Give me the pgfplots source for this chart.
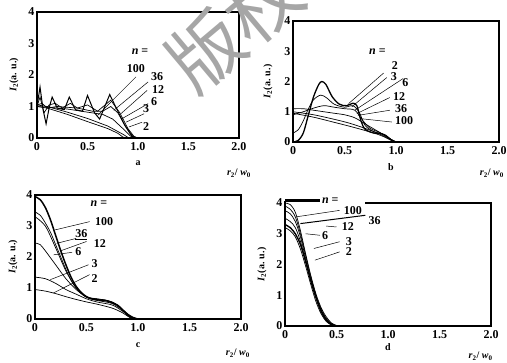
\documentclass[border=0pt]{standalone}
\usepackage{fontspec}
\setmainfont{Liberation Serif}
\newfontfamily\cjk{Noto Sans CJK SC}
\usepackage{pgfplots}
\pgfplotsset{compat=1.18}
\pgfplotsset{panel/.style={scale only axis, xmin=0,xmax=2,ymin=0,ymax=4,
  xtick={0,0.5,1,1.5,2}, xticklabels={0,0.5,1.0,1.5,2.0},
  ytick={0,1,2,3,4}, yticklabels={0,1,2,3,4},
  major tick length=0pt, axis line style={line width=2.2pt},
  tick label style={font=\fontsize{12}{12}\selectfont\bfseries},
  xticklabel style={yshift=-1pt}, yticklabel style={xshift=1pt},
  clip=false, cycle list={{black,line width=0.7pt,mark=none}},
  every axis plot/.append style={black, line width=0.7pt, mark=none}}}
\newcommand{\ylab}{\textit{I}\textsubscript{2}(a. u.)}
\newcommand{\xlab}{\textit{r}\textsubscript{2}/ \textit{w}\textsubscript{0}}
\begin{document}
\begin{tikzpicture}[x=1pt,y=1pt]
\useasboundingbox (0,0) rectangle (507,363);
% ---------------- panel a
\begin{axis}[panel, at={(37pt,225pt)}, anchor=south west, width=202pt, height=126pt]
\addplot coordinates {(0,1.0)(0.1,0.95)(0.3,0.75)(0.5,0.52)(0.7,0.3)(0.8,0.15)(0.85,0.03)(0.9,0)};
\addplot coordinates {(0,1.05)(0.1,1.0)(0.3,0.82)(0.5,0.62)(0.7,0.38)(0.85,0.12)(0.9,0.02)(0.95,0)};
\addplot coordinates {(0,1.0)(0.1,0.98)(0.3,0.92)(0.5,0.82)(0.65,0.75)(0.75,0.6)(0.85,0.3)(0.93,0.05)(0.97,0)};
\addplot coordinates {(0,1.05)(0.05,1.1)(0.1,0.95)(0.2,1.0)(0.4,0.95)(0.55,0.85)(0.65,0.85)(0.73,1.0)(0.8,0.8)(0.88,0.35)(0.95,0.05)(1.0,0)};
\addplot coordinates {(0,1.0)(0.03,1.3)(0.07,0.8)(0.12,1.05)(0.18,1.1)(0.25,0.95)(0.33,1.1)(0.4,0.95)(0.5,1.05)(0.6,0.85)(0.73,1.2)(0.82,0.8)(0.9,0.3)(0.96,0.05)(1.0,0)};
\addplot[line width=1pt] coordinates {(0,1.0)(0.03,1.62)(0.06,0.9)(0.09,0.45)(0.12,0.95)(0.15,1.3)(0.2,0.95)(0.27,0.9)(0.32,1.3)(0.38,0.9)(0.45,0.85)(0.5,1.35)(0.57,0.8)(0.62,0.6)(0.72,1.38)(0.8,0.85)(0.87,0.4)(0.94,0.05)(0.98,0)};
\draw[line width=0.5pt] (axis cs:0.98,1.94)--(axis cs:0.6,0.72);
\draw[line width=0.5pt] (axis cs:1.1,1.78)--(axis cs:0.76,0.88);
\draw[line width=0.5pt] (axis cs:1.09,1.51)--(axis cs:0.83,0.77);
\draw[line width=0.5pt] (axis cs:1.1,1.09)--(axis cs:0.84,0.61);
\draw[line width=0.5pt] (axis cs:1.06,0.77)--(axis cs:0.88,0.5);
\draw[line width=0.5pt] (axis cs:1.04,0.5)--(axis cs:0.91,0.35);
\begin{scope}[font=\fontsize{12}{12}\selectfont\bfseries]
\node at (axis cs:1.02,2.73) {\textit{n} =};
\node at (axis cs:0.98,2.2) {100};
\node at (axis cs:1.19,1.94) {36};
\node at (axis cs:1.2,1.53) {12};
\node at (axis cs:1.16,1.14) {6};
\node at (axis cs:1.08,0.93) {3};
\node at (axis cs:1.08,0.37) {2};
\end{scope}
\node[font=\fontsize{10}{10}\selectfont\bfseries] at ([yshift=-25pt]axis cs:1.0,0) {a};
\node[font=\fontsize{10}{10}\selectfont\bfseries] at ([yshift=-35pt]axis cs:2.0,0) {\xlab};
\node[font=\fontsize{10}{10}\selectfont\bfseries, rotate=90] at ([xshift=-23pt]rel axis cs:0,0.5) {\ylab};
\end{axis}
% ---------------- panel b
\begin{axis}[panel, at={(293pt,221pt)}, anchor=south west, width=206pt, height=121pt]
\addplot[line width=1.3pt, smooth] coordinates {(0,0)(0.05,0.05)(0.1,0.3)(0.15,0.9)(0.2,1.5)(0.25,1.9)(0.28,2.0)(0.32,1.9)(0.38,1.5)(0.45,1.25)(0.52,1.2)(0.58,1.28)(0.62,1.2)(0.66,0.7)(0.7,0.42)(0.78,0.3)(0.85,0.28)(0.9,0.22)(0.95,0.08)(1.0,0)};
\addplot[smooth] coordinates {(0,0.3)(0.05,0.4)(0.1,0.7)(0.15,1.1)(0.2,1.4)(0.27,1.55)(0.33,1.45)(0.4,1.25)(0.5,1.15)(0.58,1.2)(0.64,1.0)(0.7,0.55)(0.78,0.35)(0.88,0.25)(0.95,0.08)(1.0,0)};
\addplot[smooth] coordinates {(0,0.9)(0.1,1.0)(0.2,1.12)(0.3,1.2)(0.4,1.15)(0.5,1.1)(0.6,1.05)(0.68,0.7)(0.75,0.45)(0.85,0.3)(0.95,0.08)(1.0,0)};
\addplot[smooth] coordinates {(0,1.1)(0.1,1.1)(0.2,1.05)(0.3,1.0)(0.4,0.95)(0.5,0.9)(0.6,0.8)(0.7,0.6)(0.8,0.4)(0.9,0.2)(0.97,0.05)(1.0,0)};
\addplot[smooth] coordinates {(0,1.0)(0.2,0.9)(0.4,0.75)(0.55,0.62)(0.7,0.45)(0.85,0.25)(0.95,0.08)(1.0,0)};
\addplot[smooth] coordinates {(0,0.95)(0.2,0.82)(0.4,0.65)(0.55,0.52)(0.7,0.38)(0.85,0.22)(0.95,0.06)(1.0,0)};
\draw[line width=0.5pt] (axis cs:0.88,2.28)--(axis cs:0.54,1.27);
\draw[line width=0.5pt] (axis cs:0.91,2.13)--(axis cs:0.57,1.16);
\draw[line width=0.5pt] (axis cs:1.07,2.1)--(axis cs:0.6,1.05);
\draw[line width=0.5pt] (axis cs:0.94,1.47)--(axis cs:0.62,0.94);
\draw[line width=0.5pt] (axis cs:0.94,1.05)--(axis cs:0.63,0.88);
\draw[line width=0.5pt] (axis cs:0.96,0.66)--(axis cs:0.66,0.77);
\begin{scope}[font=\fontsize{12}{12}\selectfont\bfseries]
\node at (axis cs:0.82,2.97) {\textit{n} =};
\node at (axis cs:0.99,2.53) {2};
\node at (axis cs:0.98,2.15) {3};
\node at (axis cs:1.09,1.98) {6};
\node at (axis cs:1.03,1.49) {12};
\node at (axis cs:1.05,1.1) {36};
\node at (axis cs:1.08,0.72) {100};
\end{scope}
\node[font=\fontsize{10}{10}\selectfont\bfseries] at ([yshift=-25pt]axis cs:0.95,0) {b};
\node[font=\fontsize{10}{10}\selectfont\bfseries] at ([yshift=-31pt]axis cs:1.93,0) {\xlab};
\node[font=\fontsize{10}{10}\selectfont\bfseries, rotate=90] at ([xshift=-25pt]rel axis cs:0,0.5) {\ylab};
\end{axis}
% ---------------- panel c
\begin{axis}[panel, at={(35pt,44pt)}, anchor=south west, width=206pt, height=124pt]
\addplot[line width=1.5pt, smooth] coordinates {(0,3.95)(0.05,3.85)(0.1,3.6)(0.15,3.2)(0.2,2.7)(0.25,2.2)(0.3,1.75)(0.35,1.35)(0.4,1.05)(0.45,0.85)(0.5,0.72)(0.55,0.65)(0.6,0.62)(0.7,0.58)(0.8,0.45)(0.85,0.3)(0.9,0.15)(0.95,0.05)(1.0,0)};
\addplot[smooth] coordinates {(0,3.45)(0.05,3.35)(0.1,3.1)(0.15,2.8)(0.2,2.4)(0.25,2.0)(0.3,1.6)(0.35,1.25)(0.4,1.0)(0.5,0.72)(0.6,0.65)(0.7,0.6)(0.8,0.45)(0.88,0.2)(0.95,0.05)(1.0,0)};
\addplot[smooth] coordinates {(0,3.3)(0.1,3.0)(0.2,2.3)(0.3,1.55)(0.4,1.0)(0.5,0.7)(0.6,0.65)(0.75,0.55)(0.85,0.3)(0.93,0.08)(1.0,0)};
\addplot[smooth] coordinates {(0,2.45)(0.05,2.4)(0.1,2.2)(0.2,1.75)(0.3,1.3)(0.4,0.95)(0.5,0.7)(0.6,0.6)(0.75,0.5)(0.85,0.28)(0.92,0.08)(0.98,0)};
\addplot[smooth] coordinates {(0,1.35)(0.1,1.3)(0.2,1.15)(0.3,0.95)(0.4,0.8)(0.5,0.65)(0.6,0.55)(0.75,0.45)(0.85,0.25)(0.92,0.06)(0.98,0)};
\addplot[smooth] coordinates {(0,0.95)(0.1,0.9)(0.2,0.82)(0.3,0.72)(0.4,0.63)(0.5,0.55)(0.6,0.48)(0.75,0.35)(0.85,0.2)(0.92,0.05)(0.97,0)};
\draw[line width=0.5pt] (axis cs:0.53,3.14)--(axis cs:0.19,2.87);
\draw[line width=0.5pt] (axis cs:0.4,2.6)--(axis cs:0.21,2.44);
\draw[line width=0.5pt] (axis cs:0.5,2.5)--(axis cs:0.25,2.2);
\draw[line width=0.5pt] (axis cs:0.36,2.15)--(axis cs:0.18,2.07);
\draw[line width=0.5pt] (axis cs:0.52,1.75)--(axis cs:0.15,1.27);
\draw[line width=0.5pt] (axis cs:0.53,1.43)--(axis cs:0.18,0.84);
\begin{scope}[font=\fontsize{12}{12}\selectfont\bfseries]
\node at (axis cs:0.62,3.73) {\textit{n} =};
\node at (axis cs:0.67,3.14) {100};
\node at (axis cs:0.45,2.71) {\underline{36}};
\node at (axis cs:0.63,2.45) {12};
\node at (axis cs:0.42,2.18) {6};
\node at (axis cs:0.58,1.8) {3};
\node at (axis cs:0.58,1.29) {2};
\end{scope}
\node[font=\fontsize{10}{10}\selectfont\bfseries] at ([yshift=-26pt]axis cs:1.0,0) {c};
\node[font=\fontsize{10}{10}\selectfont\bfseries] at ([yshift=-34pt]axis cs:1.97,0) {\xlab};
\node[font=\fontsize{10}{10}\selectfont\bfseries, rotate=90] at ([xshift=-22pt]rel axis cs:0,0.5) {\ylab};
\end{axis}
% ---------------- panel d
\begin{axis}[panel, at={(285pt,37pt)}, anchor=south west, width=206pt, height=123pt,
  axis line style={draw=none}]
\addplot[smooth] coordinates {(0,4.0)(0.05,3.95)(0.1,3.7)(0.15,3.1)(0.2,2.35)(0.25,1.65)(0.3,1.05)(0.35,0.6)(0.4,0.3)(0.45,0.1)(0.5,0.02)(0.55,0)};
\addplot[smooth] coordinates {(0,3.9)(0.05,3.8)(0.1,3.55)(0.15,3.0)(0.2,2.3)(0.25,1.6)(0.3,1.0)(0.35,0.55)(0.4,0.25)(0.45,0.08)(0.5,0)};
\addplot[smooth] coordinates {(0,3.75)(0.05,3.65)(0.1,3.4)(0.15,2.9)(0.2,2.2)(0.25,1.5)(0.3,0.95)(0.35,0.5)(0.4,0.22)(0.45,0.06)(0.5,0)};
\addplot[smooth] coordinates {(0,3.5)(0.05,3.4)(0.1,3.2)(0.15,2.75)(0.2,2.1)(0.25,1.45)(0.3,0.9)(0.35,0.45)(0.4,0.18)(0.45,0.05)(0.48,0)};
\addplot[smooth, line width=1.4pt] coordinates {(0,3.3)(0.05,3.2)(0.1,3.0)(0.15,2.65)(0.2,2.1)(0.25,1.5)(0.3,0.95)(0.35,0.5)(0.4,0.2)(0.45,0.05)(0.5,0)};
\addplot[smooth] coordinates {(0,3.2)(0.05,3.1)(0.1,2.9)(0.15,2.5)(0.2,1.95)(0.25,1.35)(0.3,0.8)(0.35,0.4)(0.4,0.15)(0.45,0.03)(0.48,0)};
\draw[line width=2.2pt] (axis cs:0.78,4)--(axis cs:2,4)--(axis cs:2,0)--(axis cs:0,0)--(axis cs:0,4.08);
\draw[line width=2.2pt] (axis cs:0,4.08)--(axis cs:0.34,4.08);
\draw[line width=0.5pt] (axis cs:0.53,3.76)--(axis cs:0.11,3.55);
\draw[line width=1pt] (axis cs:0.78,3.6)--(axis cs:0.15,3.33);
\draw[line width=0.5pt] (axis cs:0.5,3.22)--(axis cs:0.4,3.25);
\draw[line width=0.5pt] (axis cs:0.34,2.95)--(axis cs:0.2,3.0);
\draw[line width=0.5pt] (axis cs:0.53,2.74)--(axis cs:0.28,2.52);
\draw[line width=0.5pt] (axis cs:0.53,2.41)--(axis cs:0.29,2.14);
\begin{scope}[font=\fontsize{12}{12}\selectfont\bfseries]
\node at (axis cs:0.44,4.08) {\textit{n} =};
\node at (axis cs:0.66,3.76) {100};
\node at (axis cs:0.87,3.44) {36};
\node at (axis cs:0.61,3.22) {12};
\node at (axis cs:0.39,2.95) {6};
\node at (axis cs:0.62,2.74) {3};
\node at (axis cs:0.62,2.41) {2};
\end{scope}
\node[font=\fontsize{10}{10}\selectfont\bfseries] at ([yshift=-21pt]axis cs:1.0,0) {d};
\node[font=\fontsize{10}{10}\selectfont\bfseries] at ([yshift=-30pt]axis cs:1.9,0) {\xlab};
\node[font=\fontsize{10}{10}\selectfont\bfseries, rotate=90] at ([xshift=-23pt]rel axis cs:0,0.5) {\ylab};
\end{axis}
% watermark
\node[font=\cjk\fontsize{74}{74}\selectfont, text=gray!70, rotate=40] at (234,336) {版权};
\end{tikzpicture}
\end{document}
